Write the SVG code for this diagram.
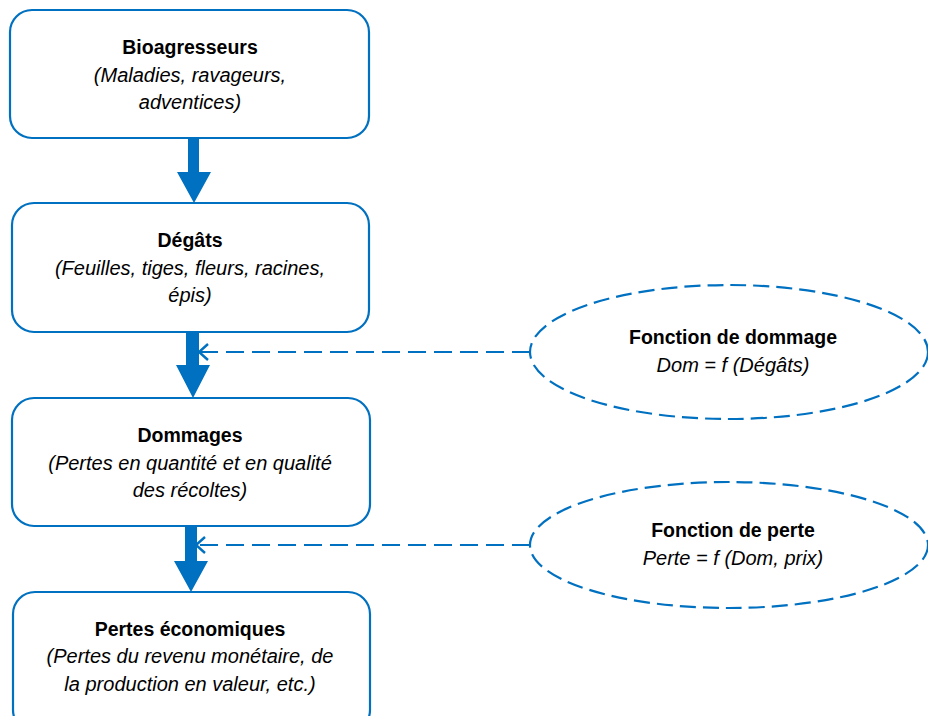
<svg xmlns="http://www.w3.org/2000/svg" width="928" height="716" viewBox="0 0 928 716">
<style>
.box{fill:#fff;stroke:#0070C0;stroke-width:2.2}
.ell{fill:#fff;stroke:#0070C0;stroke-width:2.2;stroke-dasharray:16 7}
.dash{fill:none;stroke:#0070C0;stroke-width:2.2;stroke-dasharray:18 8}
.head{fill:none;stroke:#0070C0;stroke-width:2.4}
.fat{fill:#0070C0}
text{font-family:"Liberation Sans",Arial,sans-serif;fill:#000;text-anchor:middle}
.b{font-weight:bold;font-size:19.5px}
.i{font-style:italic;font-size:20px}
</style>
<rect width="928" height="716" fill="#fff"/>
<g id="n1">
<rect class="box" x="10" y="10" width="359" height="128" rx="22"/>
<text class="b" x="190" y="54">Bioagresseurs</text>
<text class="i" x="190" y="82">(Maladies, ravageurs,</text>
<text class="i" x="190" y="109">adventices)</text>
</g>
<g id="n2">
<rect class="box" x="12" y="203" width="357" height="129" rx="22"/>
<text class="b" x="190" y="247">Dégâts</text>
<text class="i" x="190" y="275">(Feuilles, tiges, fleurs, racines,</text>
<text class="i" x="190" y="302">épis)</text>
</g>
<g id="n3">
<rect class="box" x="12" y="398" width="358" height="128" rx="22"/>
<text class="b" x="190" y="442">Dommages</text>
<text class="i" x="190" y="470">(Pertes en quantité et en qualité</text>
<text class="i" x="190" y="497">des récoltes)</text>
</g>
<g id="n4">
<rect class="box" x="13" y="592" width="357" height="140" rx="22"/>
<text class="b" x="190" y="636">Pertes économiques</text>
<text class="i" x="190" y="663">(Pertes du revenu monétaire, de</text>
<text class="i" x="190" y="691">la production en valeur, etc.)</text>
</g>
<g id="e1">
<ellipse class="ell" cx="729" cy="352" rx="199" ry="67"/>
<text class="b" x="733" y="344">Fonction de dommage</text>
<text class="i" x="733" y="372">Dom = f (Dégâts)</text>
</g>
<g id="e2">
<ellipse class="ell" cx="729" cy="545" rx="199" ry="63"/>
<text class="b" x="733" y="537">Fonction de perte</text>
<text class="i" x="733" y="565">Perte = f (Dom, prix)</text>
</g>
<g id="connectors">
<polygon class="fat" points="188,138 199,138 199,172 211,172 194,203 177,172 188,172"/>
<polygon class="fat" points="186,332 199,332 199,365 210,365 193,398 176,365 186,365"/>
<polygon class="fat" points="185,526 197,526 197,561 208,561 191,592 174,561 185,561"/>
<line class="dash" x1="530" y1="352" x2="200" y2="352"/>
<polyline class="head" points="208,344 199,352 208,360"/>
<line class="dash" x1="530" y1="545" x2="197" y2="545"/>
<polyline class="head" points="205,537 196,545 205,553"/>
</g>
</svg>
